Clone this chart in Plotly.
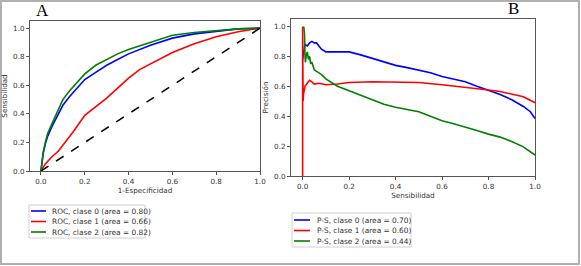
import plotly.graph_objects as go

W, H = 581, 266

# ---- Panel A: ROC curves ----
roc0_fpr = [0.0, 0.005, 0.01, 0.02, 0.03, 0.05, 0.07, 0.1, 0.13, 0.16, 0.2, 0.25, 0.3, 0.35, 0.4, 0.5, 0.6, 0.7, 0.8, 0.9, 1.0]
roc0_tpr = [0.0, 0.07, 0.12, 0.19, 0.24, 0.31, 0.37, 0.46, 0.52, 0.57, 0.64, 0.69, 0.74, 0.78, 0.82, 0.88, 0.93, 0.96, 0.98, 0.995, 1.0]
roc1_fpr = [0.0, 0.01, 0.02, 0.05, 0.08, 0.1, 0.15, 0.2, 0.25, 0.3, 0.35, 0.4, 0.45, 0.5, 0.6, 0.7, 0.8, 0.9, 1.0]
roc1_tpr = [0.0, 0.03, 0.05, 0.1, 0.14, 0.18, 0.28, 0.39, 0.45, 0.51, 0.58, 0.65, 0.71, 0.75, 0.83, 0.89, 0.94, 0.975, 1.0]
roc2_fpr = [0.0, 0.005, 0.01, 0.02, 0.03, 0.05, 0.07, 0.1, 0.13, 0.16, 0.2, 0.25, 0.3, 0.35, 0.4, 0.5, 0.6, 0.7, 0.8, 0.9, 1.0]
roc2_tpr = [0.0, 0.08, 0.13, 0.2, 0.26, 0.33, 0.4, 0.5, 0.56, 0.61, 0.68, 0.74, 0.78, 0.82, 0.85, 0.9, 0.95, 0.97, 0.985, 0.995, 1.0]
chance = [0.0, 1.0]

roc_names = ["ROC, clase 0 (area = 0.80)", "ROC, clase 1 (area = 0.66)", "ROC, clase 2 (area = 0.82)"]

# ---- Panel B: Precision-Recall curves ----
pr0_rec = [0.0, 0.003, 0.006, 0.01, 0.02, 0.03, 0.04, 0.05, 0.06, 0.07, 0.08, 0.1, 0.15, 0.2, 0.25, 0.3, 0.35, 0.4, 0.45, 0.5, 0.55, 0.6, 0.65, 0.7, 0.75, 0.8, 0.85, 0.9, 0.95, 0.98, 1.0]
pr0_prec = [0.78, 0.82, 0.86, 0.88, 0.87, 0.89, 0.9, 0.89, 0.89, 0.87, 0.85, 0.83, 0.83, 0.83, 0.81, 0.785, 0.76, 0.74, 0.725, 0.71, 0.69, 0.665, 0.65, 0.63, 0.6, 0.575, 0.545, 0.51, 0.465, 0.43, 0.385]
pr1_rec = [0.0, 0.0, 0.002, 0.004, 0.006, 0.01, 0.02, 0.03, 0.04, 0.05, 0.07, 0.1, 0.15, 0.2, 0.3, 0.4, 0.5, 0.6, 0.7, 0.8, 0.85, 0.9, 0.95, 1.0]
pr1_prec = [0.0, 1.0, 0.5, 0.55, 0.58, 0.6, 0.62, 0.64, 0.63, 0.615, 0.62, 0.61, 0.615, 0.625, 0.63, 0.63, 0.625, 0.61, 0.595, 0.575, 0.565, 0.55, 0.53, 0.49]
pr2_rec = [0.005, 0.008, 0.01, 0.012, 0.015, 0.02, 0.025, 0.03, 0.035, 0.04, 0.05, 0.06, 0.08, 0.1, 0.12, 0.15, 0.2, 0.25, 0.3, 0.35, 0.4, 0.45, 0.5, 0.55, 0.6, 0.65, 0.7, 0.75, 0.8, 0.85, 0.9, 0.95, 1.0]
pr2_prec = [1.0, 0.95, 0.82, 0.76, 0.8, 0.83, 0.78, 0.8, 0.75, 0.76, 0.71, 0.7, 0.68, 0.65, 0.63, 0.6, 0.57, 0.54, 0.51, 0.48, 0.46, 0.445, 0.43, 0.4, 0.37, 0.35, 0.33, 0.305, 0.28, 0.26, 0.23, 0.195, 0.14]

pr_names = ["P-S, clase 0 (area = 0.70)", "P-S, clase 1 (area = 0.60)", "P-S, clase 2 (area = 0.44)"]

colors = ["#0000ff", "#ff0000", "#008000"]
tick_vals = [0.0, 0.2, 0.4, 0.6, 0.8, 1.0]
tick_text = ["0.0", "0.2", "0.4", "0.6", "0.8", "1.0"]

FONT = "DejaVu Sans"
TXT = "#333333"

fig = go.Figure()

for fx, ty, nm, c in zip([roc0_fpr, roc1_fpr, roc2_fpr], [roc0_tpr, roc1_tpr, roc2_tpr], roc_names, colors):
    fig.add_trace(go.Scatter(x=fx, y=ty, mode="lines", name=nm, line=dict(color=c, width=1.6),
                             xaxis="x", yaxis="y"))
fig.add_trace(go.Scatter(x=chance, y=chance, mode="lines", name="chance",
                         line=dict(color="black", width=1.5, dash="dash"), xaxis="x", yaxis="y"))

for rx, py, nm, c in zip([pr0_rec, pr1_rec, pr2_rec], [pr0_prec, pr1_prec, pr2_prec], pr_names, colors):
    fig.add_trace(go.Scatter(x=rx, y=py, mode="lines", name=nm, line=dict(color=c, width=1.6),
                             xaxis="x2", yaxis="y2"))


def px_x(p):
    return p / W


def px_y(p):
    return (H - p) / H


axis_common = dict(showgrid=False, zeroline=False, showline=True, mirror=True, linecolor="#555",
                   linewidth=1, ticks="outside", ticklen=3, tickcolor="#555", tickwidth=1,
                   tickvals=tick_vals, ticktext=tick_text, automargin=False,
                   tickfont=dict(family=FONT, size=7.2, color=TXT))
title_font = dict(family=FONT, size=7.2, color=TXT)

shapes = [
    dict(type="rect", xref="paper", yref="paper", x0=px_x(1), x1=px_x(579), y0=px_y(264), y1=px_y(1),
         line=dict(color="#b0b0b0", width=2), fillcolor="rgba(0,0,0,0)", layer="below"),
]
annotations = [
    dict(text="A", x=px_x(42), y=px_y(10), xref="paper", yref="paper", showarrow=False,
         xanchor="center", yanchor="middle",
         font=dict(family="Liberation Serif", size=17, color="black")),
    dict(text="B", x=px_x(513), y=px_y(8), xref="paper", yref="paper", showarrow=False,
         xanchor="center", yanchor="middle",
         font=dict(family="Liberation Serif", size=17, color="black")),
]


def add_legend(box, line_x, text_x, rows, names):
    x0, x1, y0, y1 = box
    shapes.append(dict(type="rect", xref="paper", yref="paper", x0=px_x(x0), x1=px_x(x1),
                       y0=px_y(y1), y1=px_y(y0), line=dict(color="#d0d0d0", width=1),
                       fillcolor="white", layer="above"))
    for ry, nm, c in zip(rows, names, colors):
        shapes.append(dict(type="line", xref="paper", yref="paper", x0=px_x(line_x[0]), x1=px_x(line_x[1]),
                           y0=px_y(ry), y1=px_y(ry), line=dict(color=c, width=1.6), layer="above"))
        annotations.append(dict(text=nm, x=px_x(text_x), y=px_y(ry), xref="paper", yref="paper",
                                xanchor="left", yanchor="middle", showarrow=False,
                                font=dict(family=FONT, size=7.4, color=TXT)))


add_legend((29, 145, 205, 238), (31, 46), 50, (211, 221.5, 232), roc_names)
add_legend((292, 411, 213, 247), (294, 310), 314.5, (220, 230.5, 241), pr_names)

fig.update_layout(
    width=W, height=H,
    margin=dict(l=0, r=0, t=0, b=0),
    paper_bgcolor="white", plot_bgcolor="white",
    showlegend=False,
    xaxis=dict(domain=[px_x(30), px_x(260)], range=[-0.05, 1.0], anchor="y",
               title=dict(text="1-Especificidad", font=title_font, standoff=2), **axis_common),
    yaxis=dict(domain=[px_y(171), px_y(21)], range=[0.0, 1.05], anchor="x",
               title=dict(text="Sensibilidad", font=title_font, standoff=4), **axis_common),
    xaxis2=dict(domain=[px_x(291), px_x(535)], range=[-0.05, 1.0], anchor="y2",
                title=dict(text="Sensibilidad", font=title_font, standoff=2), **axis_common),
    yaxis2=dict(domain=[px_y(176), px_y(19)], range=[0.0, 1.05], anchor="x2",
                title=dict(text="Precisión", font=title_font, standoff=4), **axis_common),
    annotations=annotations,
    shapes=shapes,
)

fig.write_html(
    "out.html",
    config={"displayModeBar": False},
    post_script="document.body.style.margin='0';document.body.style.padding='0';"
                "document.body.style.overflow='hidden';",
)
